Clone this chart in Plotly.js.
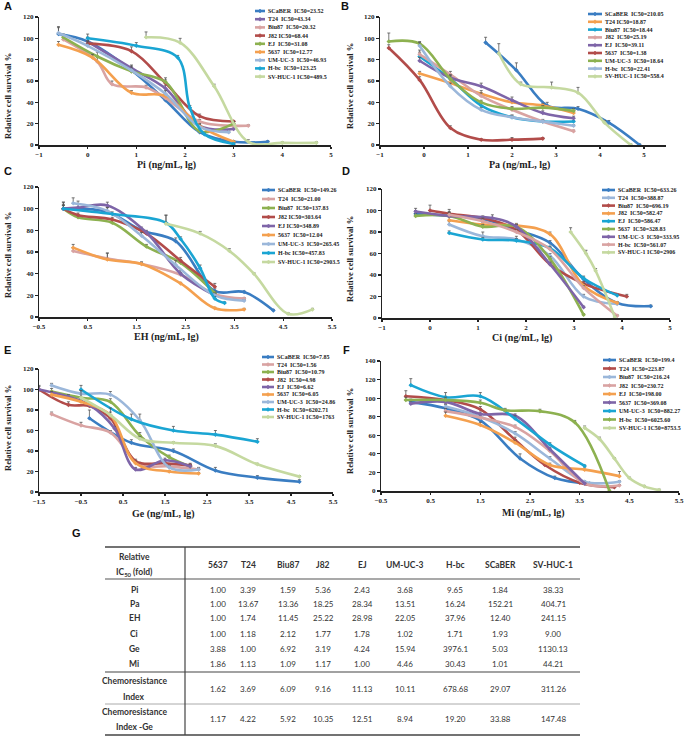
<!DOCTYPE html>
<html><head><meta charset="utf-8">
<script src="https://cdn.plot.ly/plotly-3.0.1.min.js"></script>
<style>html,body{margin:0;padding:0;background:#fff}#chart{width:685px;height:737px}</style>
</head><body><div id="chart"></div><script>
// ---------------- DATA ----------------
const cellLines = ['SCaBER','T24','Biu87','J82','EJ','5637','UM-UC-3','H-bc','SV-HUC-1'];

// Panel A – Pi
const piLabels = ['SCaBER  IC50=23.52','T24  IC50=43.34','Biu87  IC50=20.32','J82 IC50=68.44','EJ  IC50=31.08','5637  IC50=12.77','UM-UC-3  IC50=46.93','H-bc  IC50=123.25','SV-HUC-1 IC50=489.5'];
const piX = [[-0.6,0,0.9,1.6,2.3,3.0,3.7],[0,0.9,1.6,2.3,3.0],[-0.5,0.2,0.5,1.2,1.6,2.3,3.3],[0,0.9,1.6,2.3,3.0],[-0.5,0.2,0.9,1.6,2.3,3.0],[-0.6,0.1,0.9,1.6,2.3,3.0],[-0.6,0,0.9,1.6,2.3,2.9],[0,1.0,1.85,2.1,2.4,3.0],[1.2,1.9,2.6,3.3,4.0,4.7]];
const piY = [[104,97,70,42,12,3,3],[97,72,53,18,15],[99,78,57,54,44,22,18],[95,88,58,27,22],[101,83,69,59,13,20],[94,82,49,46,18,3],[105,93,70,48,17,12],[100,93,82,35,10,1],[101,96,55,3,2,2]];
const piErr = [[6,4,3,3,2,1,1],[4,3,3,2,1],[3,4,3,2,3,2,1],[3,4,3,2,1],[3,4,3,4,2,2],[3,3,2,2,2,1],[6,4,4,3,2,1],[4,3,2,2,1,1],[5,4,2,2,1,1]];

// Panel B – Pa
const paLabels = ['SCaBER  IC50=210.05','T24 IC50=18.87','Biu87  IC50=18.44','J82  IC50=25.19','EJ  IC50=39.11','5637  IC50=1.38','UM-UC-3  IC50=18.64','H-bc  IC50=22.41','SV-HUC-1 IC50=558.4'];
const paX = [[1.4,2.1,2.8,3.5,4.2,4.9],[-0.1,0.6,1.3,2.0,2.7,3.4],[-0.1,0.6,1.3,2.0,2.7,3.4],[-0.1,0.6,1.3,2.0,2.7,3.4],[-0.1,0.6,1.3,2.0,2.7,3.4],[-0.8,-0.1,0.6,1.3,2.0,2.7],[-0.8,-0.1,0.6,1.3,2.0,2.7,3.4],[-0.1,0.6,1.3,2.0,2.7,3.4],[1.7,2.2,2.9,3.5,4.1,4.7]];
const paY = [[96,70,37,34,21,0],[67,58,48,40,37,30],[83,62,37,26,22,22],[85,66,46,33,22,13],[79,63,55,42,30,25],[91,61,16,5,5,6],[97,95,62,40,34,35,32],[93,55,33,26,22,18],[86,57,54,49,21,0]];
const paErr = [[5,7,3,2,2,1],[2,3,3,2,2,2],[4,3,2,2,1,1],[4,3,3,2,2,1],[3,3,3,3,2,2],[3,3,2,1,2,1],[8,2,3,2,2,2,2],[3,3,2,2,1,1],[9,2,5,5,2,1]];

// Panel C – EH
const ehLabels = ['SCaBER  IC50=149.26','T24  IC50=21.00','Biu87  IC50=137.83','J82 IC50=303.64','EJ IC50=348.89','5637  IC50=12.04','UM-UC-3  IC50=265.45','H-bc IC50=457.83','SV-HUC-1 IC50=2903.5'];
const ehX = [[0,0.9,1.6,2.3,3.1,3.7,4.3],[0.2,0.9,1.6,2.4,3.1,3.7],[0,0.3,1.0,1.7,2.4,3.1],[0,0.3,1.0,1.7,2.4,3.1],[0,0.3,0.9,1.7,2.4,3.1],[0.2,0.9,1.6,2.4,3.1,3.7],[0.2,0.9,1.6,2.3,3.1,3.7],[0,1.0,2.1,2.4,2.8,3.1,3.3],[2.1,2.8,3.4,3.9,4.6,5.1]];
const ehY = [[100,97,80,70,24,23,6],[61,54,49,39,21,17],[100,92,87,65,50,22],[100,94,90,77,52,28],[100,101,103,78,40,20],[64,53,49,31,8,7],[105,98,75,48,20,15],[100,95,87,72,45,17,13],[86,77,61,40,3,7]];
const ehErr = [[6,4,3,3,2,1,1],[3,5,2,2,2,1],[4,2,2,2,3,2],[3,2,2,2,3,3],[6,6,3,2,3,2],[3,6,1,1,1,1],[5,3,3,4,2,1],[3,2,7,2,3,2,1],[8,2,2,1,1,1]];

// Panel D – Ci
const ciLabels = ['SCaBER  IC50=633.26','T24  IC50=388.87','Biu87  IC50=696.19','J82  IC50=582.47','EJ  IC50=586.47','5637  IC50=328.83','UM-UC-3  IC50=333.95','H-bc  IC50=561.07','SV-HUC-1 IC50=2906'];
const ciX = [[-0.3,0.4,1.1,1.8,2.5,3.2,3.9,4.6],[0.4,1.1,1.8,2.5,3.2,3.9],[0,0.4,1.1,1.8,2.5,3.2,4.1],[0.4,1.1,1.8,2.5,3.2,3.9],[0.4,1.1,1.8,2.5,3.2,3.9],[-0.3,0.4,1.1,1.8,2.5,3.2],[-0.3,0.4,1.3,1.8,2.5,3.2],[0.4,1.1,1.8,2.5,3.2,3.9],[2.93,3.25,3.45,3.85]];
const ciY = [[97,95,92,82,70,36,14,11],[87,76,73,58,20,13],[100,97,93,82,50,32,20],[91,87,86,78,30,14],[79,73,72,65,37,21],[95,95,85,85,55,3],[99,95,93,85,50,10],[96,90,80,64,28,2],[80,60,44,1]];
const ciErr = [[3,3,2,2,2,2,1,1],[3,4,3,2,2,1],[5,4,2,2,2,2,2],[3,2,2,2,2,1],[2,2,2,2,2,1],[2,2,2,2,2,1],[3,3,3,2,2,1],[3,3,2,2,2,1],[4,3,2,1]];

// Panel E – Ge
const geLabels = ['SCaBER  IC50=7.85','T24  IC50=1.56','Biu87  IC50=10.79','J82  IC50=4.98','EJ  IC50=6.62','5637  IC50=6.05','UM-UC-3  IC50=24.86','H-bc  IC50=6202.71','SV-HUC-1 IC50=1763'];
const geX = [[-0.3,0.7,1.7,2.7,3.7,4.7],[-1.2,-0.5,0.2,0.9,1.6,2.3],[-1.2,-0.5,0.2,0.9,1.6,2.1],[-1.5,-0.8,-0.3,0.2,0.8,1.5,2.1],[-1.5,-0.8,-0.3,0.3,0.8,1.5,2.1],[-1.2,-0.5,0.2,0.8,1.6,2.3],[-1.2,-0.5,0.2,0.9,1.6,2.3],[-0.5,0.7,1.7,2.7,3.7],[-0.5,0.2,0.9,1.7,2.7,3.7,4.7]];
const geY = [[72,48,40,21,14,10],[76,65,58,27,25,22],[98,92,88,55,34,25],[100,85,84,72,30,28,26],[100,93,85,62,22,31,25],[95,88,75,28,20,18],[104,96,95,70,24,22],[100,71,60,56,49],[92,75,52,48,45,27,15]];
const geErr = [[8,3,2,3,2,2],[2,3,2,2,2,2],[3,3,3,3,2,2],[3,3,3,3,2,2,2],[4,2,2,2,2,2,2],[3,3,3,2,1,1],[2,3,3,6,2,1],[4,5,4,4,3],[7,7,2,1,2,1,1]];

// Panel F – Mi
const miLabels = ['SCaBER  IC50=199.4','T24  IC50=223.87','Biu87  IC50=216.24','J82  IC50=230.72','EJ  IC50=198.00','5637  IC50=369.08','UM-UC-3  IC50=882.27','H-bc  IC50=6025.60','SV-HUC-1 IC50=8753.5'];
const miX = [[0.1,0.8,1.5,2.3,3.0,3.7],[0,0.8,1.5,2.2,2.8,3.5,4.2],[0.8,1.5,2.2,2.9,3.6,4.3],[0.8,1.5,2.2,2.9,3.6,4.3],[0.8,1.5,2.2,2.9,3.6,4.3],[0.1,0.8,1.5,2.2,2.9,3.6],[0.1,0.8,1.5,2.2,2.9,3.6],[0,0.8,1.5,2.0,2.7,3.4,4.1],[3.6,3.9,4.2,4.5,4.8,5.1]];
const miY = [[96,89,76,35,14,8],[102,98,88,55,28,9,4],[91,80,62,35,10,10],[86,79,69,43,8,6],[81,71,52,28,23,16],[94,96,83,81,45,8],[114,101,102,78,50,27],[98,98,95,87,86,74,0],[68,56,35,14,5,1]];
const miErr = [[3,4,2,5,2,1],[6,4,3,3,2,2,1],[3,3,2,2,1,1],[3,2,2,2,1,1],[4,3,2,2,2,5],[3,3,2,2,2,1],[7,5,4,3,2,1],[3,3,3,2,2,2,1],[2,2,1,1,1,1]];

// Panel G – table
const tblCols = ['5637','T24','Biu87','J82','EJ','UM-UC-3','H-bc','SCaBER','SV-HUC-1'];
const tblRowNames = ['Pi','Pa','EH','Ci','Ge','Mi'];
const foldPi = ['1.00','3.39','1.59','5.36','2.43','3.68','9.65','1.84','38.33'];
const foldPa = ['1.00','13.67','13.36','18.25','28.34','13.51','16.24','152.21','404.71'];
const foldEH = ['1.00','1.74','11.45','25.22','28.98','22.05','37.96','12.40','241.15'];
const foldCi = ['1.00','1.18','2.12','1.77','1.78','1.02','1.71','1.93','9.00'];
const foldGe = ['3.88','1.00','6.92','3.19','4.24','15.94','3976.1','5.03','1130.13'];
const foldMi = ['1.86','1.13','1.09','1.17','1.00','4.46','30.43','1.01','44.21'];
const chemoIndex = ['1.62','3.69','6.09','9.16','11.13','10.11','678.68','29.07','311.26'];
const chemoIndexGe = ['1.17','4.22','5.92','10.35','12.51','8.94','19.20','33.88','147.48'];

// ---------------- STYLE / LAYOUT ----------------
const C = {blue:'#3A7DC2', purple:'#7E65A8', pink:'#D9A3A2', darkred:'#B24C4A', green:'#8DB150', orange:'#F4A04F', lightblue:'#9BB7DA', cyan:'#1AA5D3', lightgreen:'#C5D9A0'};
const piColors = [C.blue,C.purple,C.pink,C.darkred,C.green,C.orange,C.lightblue,C.cyan,C.lightgreen];
const paColors = [C.blue,C.orange,C.cyan,C.pink,C.purple,C.darkred,C.green,C.lightblue,C.lightgreen];
const ehColors = [C.blue,C.pink,C.green,C.darkred,C.purple,C.orange,C.lightblue,C.cyan,C.lightgreen];
const ciColors = [C.blue,C.lightblue,C.darkred,C.orange,C.cyan,C.green,C.purple,C.pink,C.lightgreen];
const geColors = [C.blue,C.pink,C.green,C.darkred,C.purple,C.orange,C.lightblue,C.cyan,C.lightgreen];
const miColors = [C.blue,C.darkred,C.lightblue,C.pink,C.orange,C.purple,C.cyan,C.green,C.lightgreen];

const W = 685, H = 737;
const px = v => v / W, py = v => 1 - v / H;
const SERIF = 'Liberation Serif', SANS = 'Liberation Sans', TBL = 'Lato';

const panels = [
  {x:piX,y:piY,err:piErr,labels:piLabels,colors:piColors,dom:[39,331,17,145],xr:[-1,5],x0:-1,yr:[0,120],title:'Pi (ng/mL, lg)',xt:[166,165],yt:[8,96],letter:['A',8,6],leg:[255,265,266,11,8.2]},
  {x:paX,y:paY,err:paErr,labels:paLabels,colors:paColors,dom:[380,666,17,145],xr:[-1,5.5],x0:-1,yr:[0,120],title:'Pa (ng/mL, lg)',xt:[519,165],yt:[350,86],letter:['B',345,6],leg:[588,602,603,14,7.8]},
  {x:ehX,y:ehY,err:ehErr,labels:ehLabels,colors:ehColors,dom:[39,332,187,317],xr:[-0.5,5.5],x0:-0.5,yr:[0,120],title:'EH (ng/mL, lg)',xt:[166,337],yt:[8,255],letter:['C',8,171],leg:[262,275,276,190,9]},
  {x:ciX,y:ciY,err:ciErr,labels:ciLabels,colors:ciColors,dom:[382,670,189,318],xr:[-1,5],x0:-1,yr:[0,120],title:'Ci (ng/mL, lg)',xt:[522,338],yt:[350,259],letter:['D',346,171],leg:[602,615,616,190,7.8]},
  {x:geX,y:geY,err:geErr,labels:geLabels,colors:geColors,dom:[39,333,369,492],xr:[-1.5,5.5],x0:-1.5,yr:[0,120],title:'Ge (ng/mL, lg)',xt:[163,514],yt:[8,428],letter:['E',8,350],leg:[262,274,275,357,7.5]},
  {x:miX,y:miY,err:miErr,labels:miLabels,colors:miColors,dom:[381,679,361,491],xr:[-0.5,5.5],x0:-0.5,yr:[0,140],title:'Mi (ng/mL, lg)',xt:[533,513],yt:[350,431],letter:['F',346,350],leg:[603,616,617,360,8.5]}
];

const axisStyle = {showline:true, linecolor:'#222', linewidth:1.5, ticks:'outside', ticklen:2.5, tickwidth:1.2, tickcolor:'#222',
  showgrid:false, zeroline:false, fixedrange:true, tickfont:{family:SERIF, size:7, color:'#222', weight:'bold'}};

const traces = [], shapes = [], annotations = [];
const layout = {width:W, height:H, margin:{l:0,r:0,t:0,b:0}, paper_bgcolor:'#fff', plot_bgcolor:'rgba(0,0,0,0)',
  showlegend:false, shapes, annotations, hovermode:false};

panels.forEach((p, k) => {
  const n = k + 1, sfx = n === 1 ? '' : String(n);
  const xref = 'x' + sfx, yref = 'y' + sfx;
  layout['xaxis' + sfx] = Object.assign({}, axisStyle, {domain:[px(p.dom[0]), px(p.dom[1])], range:p.xr, tick0:p.x0, dtick:1, anchor:yref});
  layout['yaxis' + sfx] = Object.assign({}, axisStyle, {domain:[py(p.dom[3]), py(p.dom[2])], range:p.yr, tick0:0, dtick:20, anchor:xref});
  p.x.forEach((xs, i) => {
    traces.push({type:'scatter', mode:'lines+markers', x:xs, y:p.y[i], xaxis:xref, yaxis:yref, name:cellLines[i],
      line:{color:p.colors[i], width:2.6, shape:'spline', smoothing:1},
      marker:{size:3.5, color:p.colors[i], symbol:'diamond'},
      error_y:{type:'data', symmetric:false, array:p.err[i], arrayminus:p.err[i].map(() => 0), color:'#555', thickness:0.8, width:1.5}});
    // compact legend entry
    const [lx0, lx1, tx, y0, dy] = p.leg;
    const yy = y0 + dy * i, cx = (lx0 + lx1) / 2, r = 2;
    shapes.push({type:'line', xref:'paper', yref:'paper', x0:px(lx0), x1:px(lx1), y0:py(yy), y1:py(yy), line:{color:p.colors[i], width:2.6}});
    shapes.push({type:'path', xref:'paper', yref:'paper', fillcolor:p.colors[i], line:{color:p.colors[i], width:0.5},
      path:`M ${px(cx - r)} ${py(yy)} L ${px(cx)} ${py(yy - r)} L ${px(cx + r)} ${py(yy)} L ${px(cx)} ${py(yy + r)} Z`});
    annotations.push({xref:'paper', yref:'paper', x:px(tx), y:py(yy), xanchor:'left', yanchor:'middle', showarrow:false,
      text:p.labels[i], font:{family:SERIF, size:6, color:'#222', weight:'bold'}});
  });
  annotations.push({xref:'paper', yref:'paper', x:px(p.xt[0]), y:py(p.xt[1]), xanchor:'center', yanchor:'middle', showarrow:false,
    text:p.title, font:{family:SERIF, size:10, color:'#222', weight:'bold'}});
  annotations.push({xref:'paper', yref:'paper', x:px(p.yt[0]), y:py(p.yt[1]), xanchor:'center', yanchor:'middle', showarrow:false, textangle:-90,
    text:'Relative cell survival %', font:{family:SERIF, size:8.5, color:'#222', weight:'bold'}});
  annotations.push({xref:'paper', yref:'paper', x:px(p.letter[1]), y:py(p.letter[2]), xanchor:'center', yanchor:'middle', showarrow:false,
    text:p.letter[0], font:{family:SANS, size:11, color:'#111', weight:'bold'}});
});

// ---- table (panel G) ----
annotations.push({xref:'paper', yref:'paper', x:px(76), y:py(533), xanchor:'center', yanchor:'middle', showarrow:false,
  text:'G', font:{family:SANS, size:11, color:'#111', weight:'bold'}});
const colX = [218,248,288,323,362,405,455,500,553], firstColX = 134;
const tblLeft = 105, tblRight = 580, divX = 185;
const hLines = [[547,1.5,'#444'],[579,1.2,'#555'],[672,1.2,'#444'],[704,1,'#aaa'],[735,1.5,'#444']];
hLines.forEach(([y, w, c]) => shapes.push({type:'line', xref:'paper', yref:'paper', x0:px(tblLeft), x1:px(tblRight), y0:py(y), y1:py(y), line:{color:c, width:w}}));
shapes.push({type:'line', xref:'paper', yref:'paper', x0:px(divX), x1:px(divX), y0:py(547), y1:py(735), line:{color:'#444', width:1.2}});
const tAnn = (x, y, text, bold, size) => annotations.push({xref:'paper', yref:'paper', x:px(x), y:py(y), xanchor:'center', yanchor:'middle', showarrow:false,
  text, font:{family:TBL, size:size || 8, color:'#333', weight: bold ? 'bold' : 'normal'}});
tAnn(firstColX, 557, 'Relative', true, 8.5);
tAnn(firstColX, 572, 'IC<sub>50</sub> (fold)', true, 8.5);
tblCols.forEach((c, j) => tAnn(colX[j], 565, c, true, 8.5));
const foldRows = [foldPi, foldPa, foldEH, foldCi, foldGe, foldMi];
const rowY = [590, 604, 618, 634, 649, 664];
foldRows.forEach((row, r) => {
  tAnn(firstColX, rowY[r], tblRowNames[r], true, 8.5);
  row.forEach((v, j) => tAnn(colX[j], rowY[r], v, false, 8));
});
tAnn(firstColX, 681, 'Chemoresistance', true, 8.5);
tAnn(firstColX, 697, 'Index', true, 8.5);
chemoIndex.forEach((v, j) => tAnn(colX[j], 689, v, false, 8));
tAnn(firstColX, 712, 'Chemoresistance', true, 8.5);
tAnn(firstColX, 727, 'Index -Ge', true, 8.5);
chemoIndexGe.forEach((v, j) => tAnn(colX[j], 719, v, false, 8));

Plotly.newPlot('chart', traces, layout, {staticPlot:true, displayModeBar:false});
</script></body></html>
